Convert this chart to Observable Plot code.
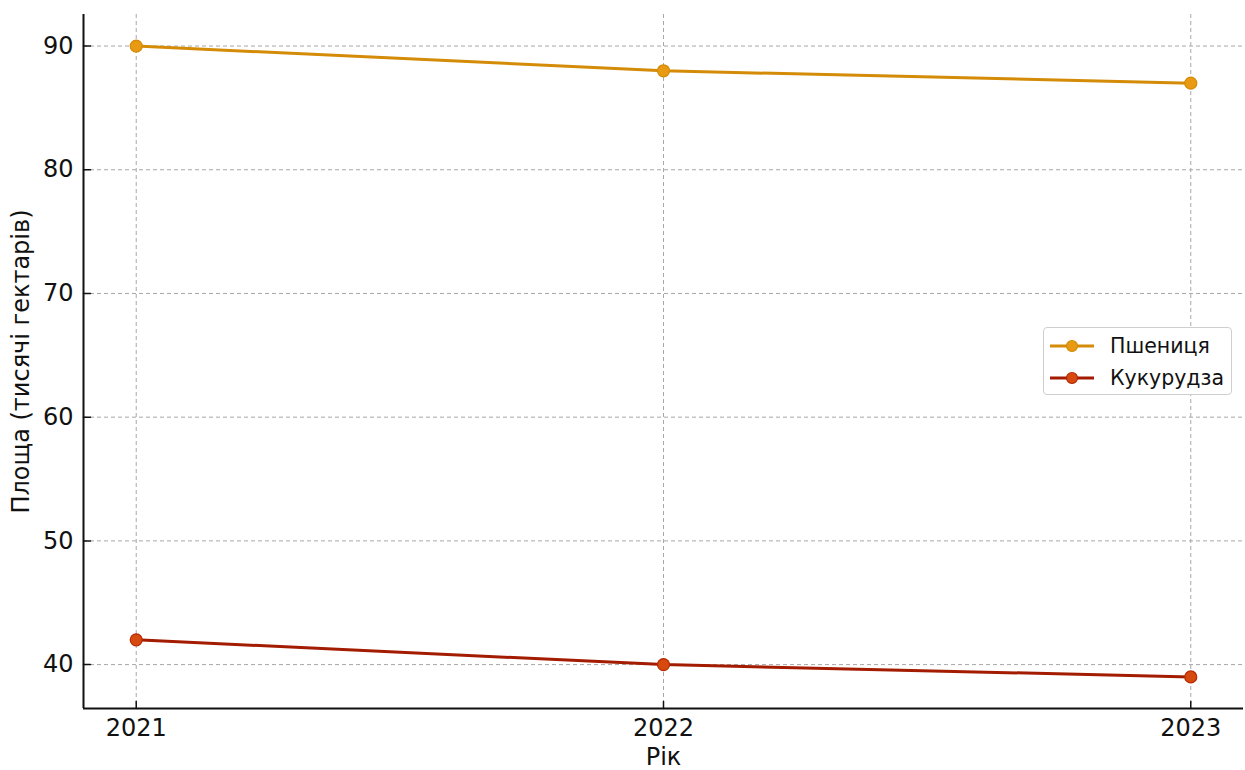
<!DOCTYPE html>
<html>
<head>
<meta charset="utf-8">
<script src="https://cdn.jsdelivr.net/npm/d3@7"></script>
<script src="https://cdn.jsdelivr.net/npm/@observablehq/plot@0.6"></script>
<style>
  html, body { margin: 0; padding: 0; background: #ffffff; }
  #wrap { position: relative; width: 1245px; height: 770px; font-family: "DejaVu Sans", sans-serif; }
  #legend { position: absolute; left: 1043px; top: 327px; width: 189px; height: 68px;
    border: 1px solid #cfcfcf; border-radius: 4px; background: #ffffff; box-sizing: border-box; }
  .item { position: absolute; left: 0; height: 30px; display: flex; align-items: center; font-size: 20.5px; color: #111; }
  .item svg { margin-left: 6px; margin-right: 16px; }
</style>
</head>
<body>
<div id="wrap"></div>
<script>
const years = [2021, 2022, 2023];
const wheat = [90, 88, 87];
const corn = [42, 40, 39];
const seriesNames = ["Пшениця", "Кукурудза"];
const yTicks = [40, 50, 60, 70, 80, 90];
const xLabel = "Рік";
const yLabel = "Площа (тисячі гектарів)";

const lineColors = ["#d48b07", "#a31b00"];
const dotFill = ["#e89b12", "#d64a10"];
const dotStroke = ["#d48b07", "#b52800"];

const rows = [];
years.forEach((yr, i) => rows.push({year: yr, value: wheat[i], s: seriesNames[0]}));
years.forEach((yr, i) => rows.push({year: yr, value: corn[i], s: seriesNames[1]}));

const xDom = [2020.9, 2023.1];
const yDom = [36.45, 92.55];
const tickShape = {draw(ctx, l) { ctx.moveTo(0, 0); ctx.lineTo(0, -l); }};

const chart = Plot.plot({
  width: 1245,
  height: 770,
  marginLeft: 83,
  marginRight: 2,
  marginTop: 14,
  marginBottom: 62,
  style: {fontFamily: "DejaVu Sans, sans-serif", fontSize: "24px", color: "#111", background: "transparent"},
  x: {domain: xDom, ticks: years, tickFormat: d => String(d)},
  y: {domain: yDom, ticks: yTicks},
  marks: [
    Plot.gridX(years, {stroke: "#a8a8a8", strokeOpacity: 1, strokeDasharray: "4,3", strokeWidth: 1}),
    Plot.gridY(yTicks, {stroke: "#a8a8a8", strokeOpacity: 1, strokeDasharray: "4,3", strokeWidth: 1}),
    Plot.axisX({ticks: years, tickSize: 0, tickPadding: 10, tickFormat: d => String(d), fontSize: 24,
      label: xLabel, labelAnchor: "center", labelOffset: 56, labelArrow: "none"}),
    Plot.axisY({ticks: yTicks, tickSize: 0, tickPadding: 10, fontSize: 24,
      label: yLabel, labelAnchor: "center", labelOffset: 72, labelArrow: "none"}),
    Plot.vector(years, {x: d => d, y: yDom[0], length: 7, rotate: 0, anchor: "start", shape: tickShape, stroke: "#111", strokeWidth: 1.5}),
    Plot.vector(yTicks, {x: xDom[0], y: d => d, length: 7, rotate: 90, anchor: "start", shape: tickShape, stroke: "#111", strokeWidth: 1.5}),
    Plot.ruleX([xDom[0]], {y1: yDom[0], y2: yDom[1], stroke: "#111", strokeWidth: 2}),
    Plot.ruleY([yDom[0]], {x1: xDom[0], x2: xDom[1], stroke: "#111", strokeWidth: 2}),
    Plot.line(rows, {x: "year", y: "value", z: "s", stroke: d => lineColors[seriesNames.indexOf(d.s)], strokeWidth: 3}),
    Plot.dot(rows, {x: "year", y: "value", r: 6, fill: d => dotFill[seriesNames.indexOf(d.s)], stroke: d => dotStroke[seriesNames.indexOf(d.s)], strokeWidth: 1.2})
  ]
});

const wrap = document.getElementById("wrap");
wrap.appendChild(chart);

const legend = document.createElement("div");
legend.id = "legend";
seriesNames.forEach((name, i) => {
  const item = document.createElement("div");
  item.className = "item";
  item.style.top = (i === 0 ? 3 : 35) + "px";
  item.innerHTML = `<svg width="44" height="14"><line x1="0" y1="7" x2="44" y2="7" stroke="${lineColors[i]}" stroke-width="3"/><circle cx="22" cy="7" r="5.5" fill="${dotFill[i]}" stroke="${dotStroke[i]}" stroke-width="1.2"/></svg><span>${name}</span>`;
  legend.appendChild(item);
});
wrap.appendChild(legend);
</script>
</body>
</html>
